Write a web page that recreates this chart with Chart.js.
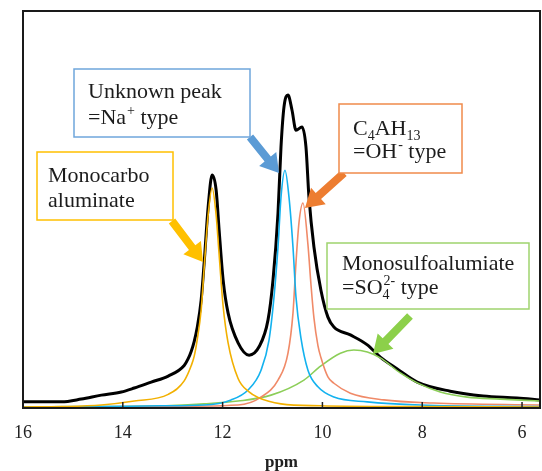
<!DOCTYPE html>
<html>
<head>
<meta charset="utf-8">
<script src="https://cdn.jsdelivr.net/npm/chart.js@4.4.1/dist/chart.umd.min.js"></script>
<style>
  html, body { margin: 0; padding: 0; background: #fff; }
</style>
</head>
<body>
<canvas id="nmrChart" width="542" height="471"></canvas>
<script>
// chemical shift (ppm) / intensity pairs
const totalPpm = [16.0, 15.23, 14.83, 14.43, 14.03, 13.77, 13.43, 13.09, 12.77, 12.69, 12.63, 12.57, 12.51, 12.43, 12.37, 12.29, 12.21, 12.13, 12.07, 11.99, 11.89, 11.69, 11.47, 11.27, 11.09, 10.99, 10.89, 10.83, 10.77, 10.69, 10.61, 10.53, 10.41, 10.33, 10.27, 10.17, 10.03, 9.89, 9.77, 9.44, 9.10, 8.84, 8.50, 8.10, 7.44, 6.78, 6.10, 5.64];
const totalInt = [1.3, 1.3, 2.0, 3.0, 3.8, 4.8, 6.3, 7.8, 10.5, 12.2, 14.0, 16.5, 20.0, 27.0, 36.4, 50.5, 58.6, 54.8, 44.7, 32.1, 23.7, 16.2, 13.1, 15.2, 22.0, 32.1, 49.0, 65.7, 75.8, 78.8, 75.0, 69.9, 70.7, 65.7, 53.0, 40.4, 29.5, 22.7, 20.2, 18.2, 15.7, 12.6, 9.6, 6.3, 4.0, 2.8, 2.3, 1.8];

const carboPpm = [16.0, 15.23, 14.43, 13.77, 13.09, 12.77, 12.63, 12.57, 12.51, 12.43, 12.37, 12.29, 12.21, 12.13, 12.07, 11.99, 11.89, 11.69, 11.47, 11.29, 10.83, 10.03, 8.44, 5.64];
const carboInt = [0, 0.1, 0.5, 1.5, 3.2, 6.6, 10.4, 12.8, 16.9, 24.5, 35.1, 48.5, 55.3, 48.5, 38.5, 25.5, 16.2, 7.2, 3.8, 2.4, 0.8, 0.3, 0.1, 0];

const naPpm = [16.0, 14.43, 13.23, 12.37, 11.83, 11.49, 11.23, 11.07, 10.97, 10.89, 10.83, 10.75, 10.67, 10.59, 10.53, 10.43, 10.29, 10.09, 9.77, 9.10, 8.04, 5.64];
const naInt = [0, 0.1, 0.3, 0.5, 1.8, 4.3, 9.3, 16.9, 27.8, 40.4, 53.0, 59.8, 53.0, 40.4, 27.8, 17.4, 9.3, 5.1, 2.5, 1.3, 0.5, 0.1];

const ohPpm = [16.0, 13.43, 11.69, 11.23, 10.89, 10.69, 10.59, 10.53, 10.47, 10.39, 10.29, 10.23, 10.17, 10.09, 10.03, 9.89, 9.77, 9.44, 8.77, 7.78, 5.64];
const ohInt = [0, 0.1, 0.5, 2.5, 6.8, 13.6, 23.7, 36.4, 46.5, 51.5, 41.0, 31.0, 22.5, 15.5, 12.5, 7.6, 6.0, 3.5, 1.8, 1.0, 0.5];

const so4Ppm = [16.0, 14.43, 13.03, 12.37, 11.69, 11.03, 10.37, 10.03, 9.64, 9.37, 9.10, 8.84, 8.44, 8.10, 7.64, 7.10, 6.44, 5.64];
const so4Int = [0, 0.1, 0.4, 0.8, 1.5, 3.0, 6.8, 10.4, 13.6, 14.4, 13.9, 12.4, 8.6, 6.1, 3.8, 2.5, 2.0, 1.5];

const xTicks = [16, 14, 12, 10, 8, 6];

function toPoints(xs, ys) {
    return xs.map((x, i) => ({ x: x, y: ys[i] }));
}

// callout boxes: [left, top, width, height], text lines as segments
const callouts = [
    {
        color: '#ffc000', box: [37, 152, 136, 68], textX: 48,
        lines: [
            { y: 182, segs: [['Monocarbo']] },
            { y: 207, segs: [['aluminate']] }
        ],
        arrow: [172, 221, 203, 262]
    },
    {
        color: '#6fa6dc', box: [74, 69, 176, 68], textX: 88,
        lines: [
            { y: 98, segs: [['Unknown peak']] },
            { y: 124, segs: [['=Na'], ['+', 'sup'], [' type']] }
        ],
        arrow: [250, 137, 279, 173],
        arrowColor: '#5b9bd5'
    },
    {
        color: '#f08a4b', box: [339, 104, 123, 69], textX: 353,
        lines: [
            { y: 135, segs: [['C'], ['4', 'sub'], ['AH'], ['13', 'sub']] },
            { y: 158, segs: [['=OH'], ['-', 'sup'], [' type']] }
        ],
        arrow: [344, 173, 305, 208],
        arrowColor: '#ed7d31'
    },
    {
        color: '#9fd36e', box: [327, 243, 202, 66], textX: 342,
        lines: [
            { y: 270, segs: [['Monosulfoalumiate']] },
            { y: 294, segs: [['=SO'], ['4', 'subsup', '2-'], [' type']] }
        ],
        arrow: [410, 316, 373, 354],
        arrowColor: '#8cd04a'
    }
];

function blockArrow(ctx, x1, y1, x2, y2, color) {
    const ang = Math.atan2(y2 - y1, x2 - x1);
    const len = Math.hypot(x2 - x1, y2 - y1);
    const shaft = 4, head = 11, headLen = 18;
    ctx.save();
    ctx.translate(x1, y1);
    ctx.rotate(ang);
    ctx.beginPath();
    ctx.moveTo(0, -shaft);
    ctx.lineTo(len - headLen, -shaft);
    ctx.lineTo(len - headLen, -head);
    ctx.lineTo(len, 0);
    ctx.lineTo(len - headLen, head);
    ctx.lineTo(len - headLen, shaft);
    ctx.lineTo(0, shaft);
    ctx.closePath();
    ctx.fillStyle = color;
    ctx.fill();
    ctx.restore();
}

const mainFont = '22px "Liberation Serif", "Times New Roman", serif';
const smallFont = '14px "Liberation Serif", "Times New Roman", serif';

function drawLine(ctx, x, y, segs) {
    ctx.fillStyle = '#1c1c1c';
    ctx.textBaseline = 'alphabetic';
    ctx.textAlign = 'left';
    segs.forEach(seg => {
        const text = seg[0], mode = seg[1];
        if (!mode) {
            ctx.font = mainFont;
            ctx.fillText(text, x, y);
            x += ctx.measureText(text).width;
        } else if (mode === 'sub') {
            ctx.font = smallFont;
            ctx.fillText(text, x, y + 5);
            x += ctx.measureText(text).width;
        } else if (mode === 'sup') {
            ctx.font = smallFont;
            ctx.fillText(text, x + 1, y - 9);
            x += ctx.measureText(text).width + 1;
        } else if (mode === 'subsup') {
            ctx.font = smallFont;
            ctx.fillText(text, x, y + 5);
            ctx.fillText(seg[2], x + 1, y - 9);
            x += Math.max(ctx.measureText(text).width, ctx.measureText(seg[2]).width + 1);
        }
    });
}

const framePlugin = {
    id: 'frameAndCallouts',
    afterDatasetsDraw(chart) {
        const ctx = chart.ctx;
        const a = chart.chartArea;
        const xs = chart.scales.x;
        ctx.save();
        // inward tick marks on the ppm axis
        ctx.strokeStyle = '#222';
        ctx.lineWidth = 1.5;
        xTicks.forEach(t => {
            const px = xs.getPixelForValue(t);
            ctx.beginPath();
            ctx.moveTo(px, a.bottom);
            ctx.lineTo(px, a.bottom - 6);
            ctx.stroke();
        });
        // plot frame
        ctx.strokeStyle = '#1a1a1a';
        ctx.lineWidth = 2;
        ctx.strokeRect(a.left, a.top, a.right - a.left, a.bottom - a.top);
        ctx.restore();

        callouts.forEach(c => {
            ctx.save();
            blockArrow(ctx, c.arrow[0], c.arrow[1], c.arrow[2], c.arrow[3], c.arrowColor || c.color);
            ctx.fillStyle = '#fff';
            ctx.fillRect(c.box[0], c.box[1], c.box[2], c.box[3]);
            ctx.strokeStyle = c.color;
            ctx.lineWidth = 1.5;
            ctx.strokeRect(c.box[0], c.box[1], c.box[2], c.box[3]);
            c.lines.forEach(l => drawLine(ctx, c.textX, l.y, l.segs));
            ctx.restore();
        });
    }
};

function lineSet(label, xs, ys, color, width, order) {
    return {
        label: label,
        data: toPoints(xs, ys),
        borderColor: color,
        borderWidth: width,
        pointRadius: 0,
        fill: false,
        cubicInterpolationMode: 'monotone',
        borderJoinStyle: 'round',
        order: order
    };
}

const ctx = document.getElementById('nmrChart').getContext('2d');
const nmrChart = new Chart(ctx, {
    type: 'line',
    data: {
        datasets: [
            lineSet('Monocarbo aluminate', carboPpm, carboInt, '#f2b000', 1.6, 0),
            lineSet('Na+ type', naPpm, naInt, '#13b2ef', 1.6, 0),
            lineSet('OH- type', ohPpm, ohInt, '#f08a68', 1.6, 0),
            lineSet('SO4 2- type', so4Ppm, so4Int, '#8cce58', 1.6, 0),
            lineSet('Total', totalPpm, totalInt, '#000000', 3, 5)
        ]
    },
    options: {
        responsive: false,
        animation: false,
        layout: { padding: { left: 21, top: 11, right: 2, bottom: 0 } },
        plugins: {
            legend: { display: false },
            tooltip: { enabled: false }
        },
        scales: {
            x: {
                type: 'linear',
                reverse: true,
                min: 5.64,
                max: 16,
                afterBuildTicks: scale => {
                    scale.ticks = xTicks.map(v => ({ value: v }));
                },
                afterFit: scale => { scale.height = 63; },
                grid: { display: false, drawTicks: false },
                border: { display: false },
                ticks: {
                    padding: 14,
                    color: '#222',
                    font: { family: '"Liberation Serif", serif', size: 18 },
                    maxRotation: 0
                },
                title: {
                    display: true,
                    text: 'ppm',
                    color: '#222',
                    font: { family: '"Liberation Serif", serif', size: 17, weight: 'bold', lineHeight: 1 },
                    padding: { top: 0, bottom: 0 }
                }
            },
            y: {
                display: false,
                min: -0.25,
                max: 100
            }
        }
    },
    plugins: [framePlugin]
});
</script>
</body>
</html>
